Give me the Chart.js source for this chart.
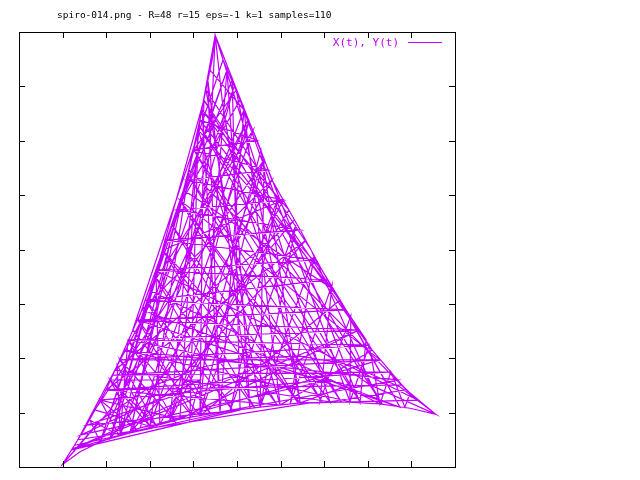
<!DOCTYPE html>
<html>
<head>
<meta charset="utf-8">
<title>spiro-014</title>
<script src="https://cdn.jsdelivr.net/npm/chart.js@4/dist/chart.umd.min.js"></script>
<style>
  body { margin: 0; background: #ffffff; }
  canvas { display: block; background: #ffffff; }
</style>
</head>
<body>
<canvas id="spiroChart" width="640" height="480"></canvas>
<script>
const chartTitle = 'spiro-014.png - R=48 r=15 eps=-1 k=1 samples=110';
const seriesLabel = 'X(t), Y(t)';

const xTicks = [-50, -40, -30, -20, -10, 0, 10, 20, 30, 40, 50];
const yTicks = [-40, -30, -20, -10, 0, 10, 20, 30, 40];

// points, in drawing order
const xValues = [
  -5.0, -5.7, -7.6, -9.4, -11.5, -15.4, -18.6, -21.8, -25.9, -30.0, -35.1, -40.1,
  -36.0, -31.4, -22.2, -13.1, -3.9, 5.3, 14.5, 23.6, 32.8, 39.7, 45.6,
  38.8, 31.0, 25.0, 19.5, 14.5, 8.0, 4.6, 0.7, -3.2, -5.0,
  -3.4, -1.6, 1.8, 5.7, 11.0, 19.0, 30.5, 45.6,
  37.4, 25.9, 14.5, 0.7, -8.5, -20.0, -31.4, -40.1,
  -29.1, -20.0, -13.1, -8.5, -6.2, -5.0,
  -6.2, 1.6, -26.8,
  -9.9, -0.2, 14.5,
  -17.0, 10.6, -15.4,
  -8.5, 23.6, -8.5,
  -23.9, -3.2, 21.3,
  -13.1, 32.8, -20.0,
  -32.6, 6.2, 5.3,
  -7.1, 17.0, 32.8,
  -20.2, 3.7, -20.0,
  -11.0, 38.8, 21.3,
  -28.0, 13.1, -29.1,
  -15.4, -1.1, 0.7,
  -38.1, 28.0, -13.1,
  -8.9, 19.5, 37.4,
  -21.8, 8.0, -24.5,
  -8.0, 31.0, 9.9,
  -30.0, 15.8, -24.5,
  -13.8, 0.7, 25.9,
  -25.9, 36.9, -3.9,
  -8.0, 11.9, -17.7,
  -18.6, 41.5, 16.7,
  -36.5, 2.5, -31.4,
  -12.2, 22.2, 37.4,
  -22.7, -2.3, -8.5,
  -7.6, 29.6, 28.2,
  -5.0,
  -8.5, 4.6, -9.9, 7.1, -11.5, 10.6, -13.8, 14.5, -16.3, 18.1, -18.6, 20.9, -20.9,
  25.0, -22.7, 28.0, -25.0, 30.3, -26.8, 32.8, -28.4, 35.3, -30.0, 37.8,
  39.7, 38.5, 35.3, 32.8, 30.3, 25.9, 26.1, 19.0, 21.8, 12.2, 17.7, 5.3,
  13.5, -1.6, 9.6, -8.5, 6.2, -15.4, 2.8, -22.2, -0.7, -29.1,
  -7.6, 33.3, -8.7, 28.4, -9.9, 23.9, -11.2, 19.5, -13.1, 14.0,
  -14.9, 9.2, -17.0, 4.1, -19.0, -0.9, -20.9, -6.0, -22.7, -10.1, -25.0, -14.4,
  -26.8, -18.6, -29.1, -23.2, -31.4, -27.1, -33.7, -31.4,
  -2.3, 3.0, -6.7, -3.9, 1.6, 9.9, -8.9, -10.8, 5.5, 14.5,
  25.9, -25.0, -26.8, -27.5, -20.0, -29.1, -8.5, -35.8, 21.3, -31.4, -13.1, -37.8,
  3.0, -34.4, -1.6, -37.2
];
const yValues = [
  39.4, 34.9, 27.5, 20.1, 12.8, 3.6, -3.8, -11.1, -18.5, -25.8, -33.2, -39.6,
  -37.2, -35.4, -32.8, -31.2, -29.9, -29.0, -28.2, -28.0, -28.4, -29.2, -30.3,
  -25.8, -18.5, -11.1, -3.8, 3.6, 12.8, 20.1, 27.5, 34.9, 39.4,
  27.5, 18.3, 9.1, -0.1, -9.3, -18.5, -24.9, -30.3,
  -25.3, -21.2, -19.6, -20.0, -21.8, -25.3, -31.4, -39.6,
  -29.5, -18.5, -7.4, 5.4, 18.3, 39.4,
  33.0, 25.7, -34.1,
  18.3, 29.3, -28.2,
  -0.1, 9.1, -31.5,
  23.8, -9.3, -30.6,
  -14.8, 34.9, -28.0,
  9.1, -20.3, -32.5,
  -29.5, 16.5, -29.0,
  29.3, -0.1, -28.4,
  -7.4, 22.0, -32.5,
  14.6, -25.8, -28.0,
  -22.2, 5.4, -34.7,
  3.6, 31.2, -29.5,
  -36.9, -14.8, -31.2,
  22.0, -3.8, -29.0,
  -11.1, 12.8, -33.6,
  25.7, -18.5, -28.6,
  -25.8, 1.7, -33.6,
  7.3, 27.5, -28.0,
  -18.5, -24.0, -29.9,
  25.7, 7.3, -32.1,
  -3.8, -27.7, -28.2,
  -35.0, 23.8, -35.4,
  10.9, -7.4, -29.0,
  -13.0, 33.0, -30.6,
  27.5, -16.6, -28.2,
  39.4,
  23.8, 20.1, 18.3, 14.6, 12.8, 9.1, 7.3, 3.6, 1.7, -1.9, -3.8, -5.6, -9.3,
  -11.1, -13.0, -14.8, -16.6, -17.6, -20.3, -20.3, -23.1, -22.5, -25.8, -24.9,
  -26.4, -29.0, -22.5, -28.4, -17.6, -28.0, -12.2, -28.0, -6.5, -28.4, -1.0, -29.0,
  4.5, -29.7, 10.0, -30.6, 16.8, -31.5, 23.8, -32.8, 29.9, -34.7,
  27.5, -28.4, 22.9, -28.2, 18.3, -28.0, 13.7, -28.0, 9.1, -28.2,
  4.5, -28.6, -0.1, -29.2, -4.7, -29.7, -9.3, -30.3, -13.0, -30.8, -16.6, -31.4,
  -20.3, -32.3, -24.0, -33.0, -27.7, -34.1, -31.4, -35.4,
  33.0, -29.2, 31.2, -29.9, 25.7, -28.6, 22.0, -31.0, 18.3, -28.2,
  -24.9, -16.6, -34.1, -21.2, -32.5, -24.0, -24.0, -34.1, -24.0, -27.7, -31.2, -36.7,
  -22.2, -32.3, -29.7, -36.0
];

const lineColor = '#c000ff';
const monoFont = '"DejaVu Sans Mono", "Liberation Mono", monospace';

// gnuplot style frame with inward ticks on all four sides, plus title and key
const gnuplotFrame = {
  id: 'gnuplotFrame',
  afterDraw(chart) {
    const ctx = chart.ctx;
    const area = chart.chartArea;
    const xScale = chart.scales.x;
    const yScale = chart.scales.y;
    const tickLen = 6;

    ctx.save();
    ctx.strokeStyle = '#000000';
    ctx.lineWidth = 1;
    ctx.strokeRect(area.left + 0.5, area.top + 0.5, area.right - area.left, area.bottom - area.top);

    ctx.beginPath();
    xTicks.slice(1, -1).forEach(v => {
      const px = Math.round(xScale.getPixelForValue(v)) + 0.5;
      ctx.moveTo(px, area.bottom);
      ctx.lineTo(px, area.bottom - tickLen);
      ctx.moveTo(px, area.top);
      ctx.lineTo(px, area.top + tickLen);
    });
    yTicks.slice(1, -1).forEach(v => {
      const py = Math.round(yScale.getPixelForValue(v)) + 0.5;
      ctx.moveTo(area.left, py);
      ctx.lineTo(area.left + tickLen, py);
      ctx.moveTo(area.right, py);
      ctx.lineTo(area.right - tickLen, py);
    });
    ctx.stroke();

    ctx.fillStyle = '#000000';
    ctx.font = '9.5px ' + monoFont;
    ctx.textBaseline = 'middle';
    ctx.textAlign = 'left';
    ctx.fillText(chartTitle, 57, 16);

    const ds = chart.data.datasets[0];
    ctx.fillStyle = ds.borderColor;
    ctx.font = '11px ' + monoFont;
    ctx.textAlign = 'right';
    ctx.fillText(ds.label, 399, 43);
    ctx.strokeStyle = ds.borderColor;
    ctx.beginPath();
    ctx.moveTo(408, 42.5);
    ctx.lineTo(442, 42.5);
    ctx.stroke();
    ctx.restore();
  }
};

const points = xValues.map((x, i) => ({ x: x, y: yValues[i] }));

new Chart(document.getElementById('spiroChart'), {
  type: 'scatter',
  data: {
    datasets: [{
      label: seriesLabel,
      data: points,
      showLine: true,
      borderColor: lineColor,
      backgroundColor: lineColor,
      borderWidth: 1.2,
      pointRadius: 0,
      tension: 0
    }]
  },
  options: {
    responsive: false,
    animation: false,
    layout: {
      padding: { left: 19, top: 32, right: 185, bottom: 13 }
    },
    scales: {
      x: {
        type: 'linear',
        min: -50,
        max: 50,
        ticks: { display: false, stepSize: 10 },
        grid: { display: false, drawTicks: false },
        border: { display: false }
      },
      y: {
        type: 'linear',
        min: -40,
        max: 40,
        ticks: { display: false, stepSize: 10 },
        grid: { display: false, drawTicks: false },
        border: { display: false }
      }
    },
    plugins: {
      legend: { display: false },
      title: { display: false },
      tooltip: { enabled: false }
    }
  },
  plugins: [gnuplotFrame]
});
</script>
</body>
</html>
